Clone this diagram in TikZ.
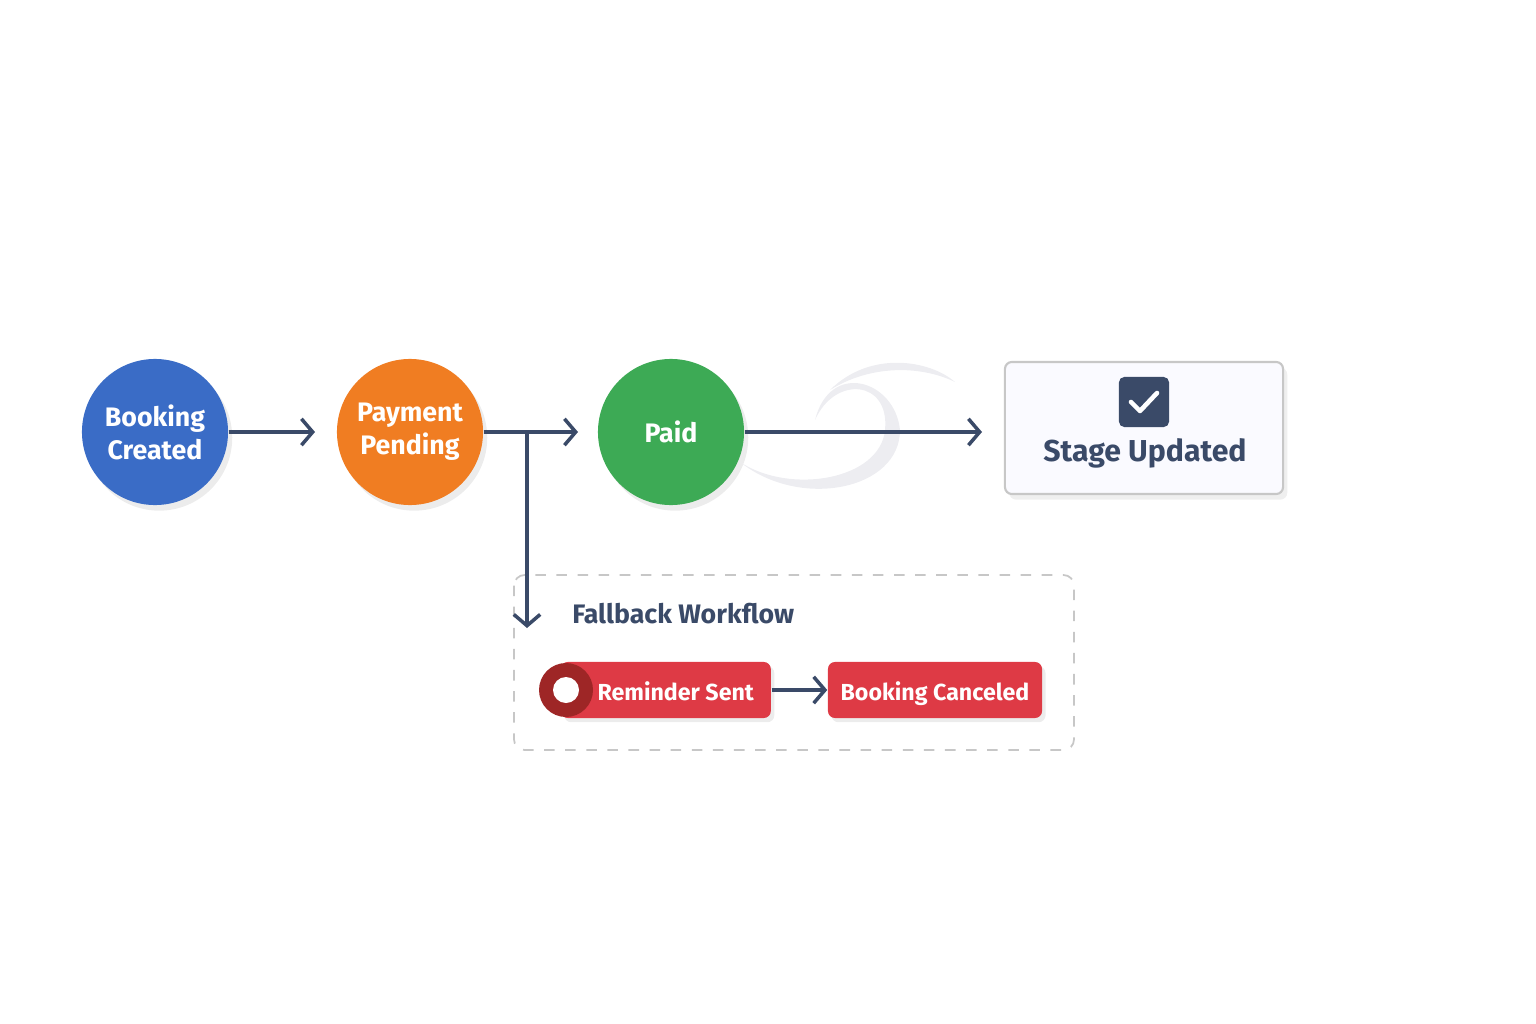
\documentclass[tikz,border=0pt]{standalone}
\usepackage{fontspec}
\setmainfont{Fira Sans}
\usetikzlibrary{positioning,shadows,arrows.meta}
\definecolor{darkSlate}{HTML}{3A4A68}
\definecolor{bookBlue}{HTML}{3A6CC6}
\definecolor{payOrange}{HTML}{F07D22}
\definecolor{paidGreen}{HTML}{3DAA55}
\definecolor{alertRed}{HTML}{DE3A45}

\begin{document}
\begin{tikzpicture}[
    x=0.01cm, y=-0.01cm,
    arr/.style={line width=1pt, draw=darkSlate, -{Straight Barb[length=3.2pt,width=7.5pt]}},
    stage/.style={
        circle,
        minimum size=1.46cm,
        inner sep=0pt,
        text=white,
        font=\fontsize{7.6}{9.4}\selectfont\bfseries,
        align=center,
        drop shadow={shadow xshift=1.2pt, shadow yshift=-1.6pt, fill=black!12, opacity=.6},
      },
    pill/.style={
        rectangle,
        rounded corners=2pt,
        minimum height=0.56cm,
        inner sep=0pt,
        text height=1.6ex, text depth=.45ex,
        fill=alertRed,
        text=white,
        font=\fontsize{6.6}{8}\selectfont\bfseries,
        drop shadow={shadow xshift=1pt, shadow yshift=-1.2pt, fill=black!12, opacity=.6},
      },
  ]
  \useasboundingbox (0,0) rectangle (1536,1024);

  % main line
  \node[stage, fill=bookBlue] (created) at (155,432) {Booking\\Created};
  \node[stage, fill=payOrange] (pending) at (410,432) {Payment\\Pending};
  \node[stage, fill=paidGreen] (paid) at (671,432) {Paid};

  % swoosh behind the last arrow
  \fill[blue!20!black!7] (740,462) .. controls (800,510) and (900,490) .. (900,430)
    .. controls (895,380) and (830,360) .. (815,420)
    .. controls (835,375) and (890,380) .. (885,430)
    .. controls (880,480) and (790,495) .. (740,462) -- cycle;
  \fill[blue!20!black!7] (830,390) .. controls (870,350) and (930,360) .. (955,382)
    .. controls (920,365) and (870,365) .. (830,390) -- cycle;

  \node[draw=black!22, line width=.6pt, fill=blue!2, rounded corners=2pt,
    minimum width=2.78cm, minimum height=1.32cm,
    drop shadow={shadow xshift=1.2pt, shadow yshift=-1.6pt, fill=black!10, opacity=.6}]
    (updated) at (1144,428) {};
  \node[fill=darkSlate, rounded corners=1.5pt, minimum size=0.5cm] (check) at (1144,402) {};
  \draw[white, line width=1.3pt, line cap=round, line join=round]
    ([shift={(-13,0)}]check.center) -- ([shift={(-4,9)}]check.center) -- ([shift={(13,-9)}]check.center);
  \node[text=darkSlate, font=\fontsize{8.6}{10}\selectfont\bfseries] (updlabel) at (1145,453) {Stage Updated};

  \draw[arr] (created) -- (315,432);
  \draw[arr] (pending) -- (578,432);
  \draw[arr] (paid) -- (982,432);

  % fallback
  \draw[black!22, dashed, line width=.5pt, rounded corners=3pt] (514,575) rectangle (1074,750);
  \node[text=darkSlate, font=\fontsize{7.6}{9}\selectfont\bfseries, anchor=west] (fbtitle) at (560,614) {Fallback Workflow};
  \coordinate (split) at (527,432);
  \draw[arr] (split) -- (527,628);

  \node[pill, minimum width=2.1cm, anchor=west] (reminder) at (560,690) {\hspace*{0.2cm}Reminder Sent};
  \fill[red!55!black!85] (566,690) circle (27);
  \fill[white] (566,690) circle (13);
  \node[pill, minimum width=2.14cm] (canceled) at (935,690) {Booking Canceled};
  \draw[arr] (reminder) -- (canceled);
\end{tikzpicture}
\end{document}
